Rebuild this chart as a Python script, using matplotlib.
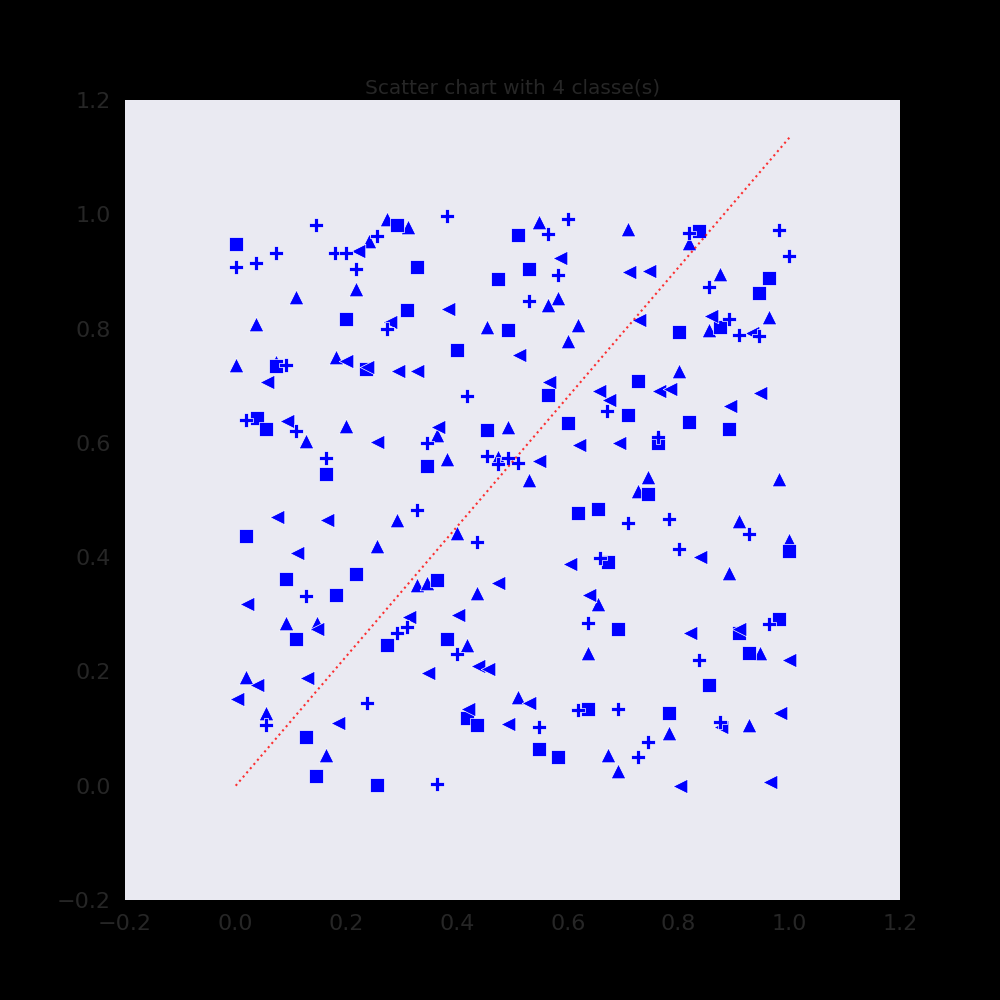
import numpy as np
import matplotlib
matplotlib.use("Agg")
import matplotlib.pyplot as plt

# class 1: squares
sq_x = [0.000, 0.291, 0.327, 0.310, 0.199, 0.073, 0.236, 0.510, 0.529, 0.473,
        0.491, 0.400, 0.565, 0.837, 0.964, 0.946, 0.801, 0.874, 0.727, 0.038,
        0.055, 0.163, 0.019, 0.091, 0.217, 0.181, 0.454, 0.601, 0.346, 0.619,
        0.655, 0.364, 0.709, 0.819, 0.892, 0.763, 0.745, 0.673, 1.000, 0.109,
        0.274, 0.127, 0.145, 0.256, 0.382, 0.417, 0.436, 0.637, 0.547, 0.583,
        0.691, 0.982, 0.910, 0.928, 0.855, 0.783]
sq_y = [0.948, 0.981, 0.908, 0.832, 0.817, 0.735, 0.729, 0.964, 0.905, 0.886,
        0.797, 0.762, 0.684, 0.971, 0.888, 0.862, 0.794, 0.802, 0.709, 0.644,
        0.624, 0.545, 0.437, 0.361, 0.370, 0.334, 0.622, 0.634, 0.559, 0.478,
        0.485, 0.360, 0.649, 0.637, 0.625, 0.599, 0.510, 0.392, 0.410, 0.256,
        0.247, 0.085, 0.017, 0.001, 0.256, 0.118, 0.106, 0.135, 0.065, 0.050,
        0.274, 0.291, 0.267, 0.233, 0.177, 0.128]

# class 2: plus
pl_x = [0.145, 0.256, 0.073, 0.179, 0.199, 0.000, 0.037, 0.217, 0.274, 0.091,
        0.382, 0.601, 0.565, 0.583, 0.529, 0.418, 0.819, 0.982, 1.000, 0.855,
        0.892, 0.910, 0.946, 0.019, 0.109, 0.163, 0.327, 0.127, 0.346, 0.454,
        0.473, 0.491, 0.510, 0.671, 0.436, 0.658, 0.763, 0.709, 0.783, 0.928,
        0.801, 0.292, 0.310, 0.238, 0.055, 0.637, 0.400, 0.619, 0.547, 0.364,
        0.964, 0.837, 0.691, 0.874, 0.745, 0.727]
pl_y = [0.982, 0.962, 0.933, 0.933, 0.932, 0.907, 0.914, 0.905, 0.799, 0.736,
        0.997, 0.991, 0.966, 0.893, 0.848, 0.682, 0.967, 0.972, 0.927, 0.872,
        0.817, 0.789, 0.787, 0.640, 0.621, 0.573, 0.482, 0.332, 0.600, 0.577,
        0.563, 0.573, 0.565, 0.656, 0.426, 0.398, 0.611, 0.459, 0.466, 0.440,
        0.415, 0.268, 0.277, 0.144, 0.106, 0.284, 0.230, 0.132, 0.102, 0.003,
        0.283, 0.220, 0.134, 0.112, 0.076, 0.050]

# class 3: triangles up
tu_x = [0.273, 0.312, 0.240, 0.218, 0.109, 0.037, 0.073, 0.000, 0.181, 0.547,
        0.583, 0.565, 0.454, 0.619, 0.601, 0.709, 0.819, 0.874, 0.964, 0.855,
        0.801, 0.199, 0.127, 0.292, 0.256, 0.327, 0.364, 0.491, 0.382, 0.473,
        0.529, 0.400, 0.345, 0.436, 0.745, 0.727, 0.982, 0.910, 0.892, 1.000,
        0.763, 0.091, 0.146, 0.019, 0.055, 0.163, 0.655, 0.418, 0.637, 0.510,
        0.783, 0.928, 0.947, 0.673, 0.691]
tu_y = [0.991, 0.977, 0.953, 0.870, 0.855, 0.808, 0.742, 0.736, 0.751, 0.987,
        0.853, 0.841, 0.803, 0.806, 0.778, 0.975, 0.949, 0.896, 0.821, 0.798,
        0.725, 0.630, 0.603, 0.465, 0.420, 0.351, 0.614, 0.627, 0.571, 0.576,
        0.535, 0.443, 0.355, 0.337, 0.541, 0.516, 0.537, 0.463, 0.372, 0.430,
        0.612, 0.284, 0.284, 0.190, 0.127, 0.054, 0.318, 0.247, 0.232, 0.156,
        0.092, 0.106, 0.233, 0.053, 0.026]

# class 4: triangles left
tl_x = [0.279, 0.200, 0.237, 0.294, 0.327, 0.056, 0.221, 0.585, 0.384, 0.512,
        0.566, 0.657, 0.711, 0.747, 0.729, 0.858, 0.932, 0.674, 0.765, 0.784,
        0.947, 0.092, 0.256, 0.074, 0.164, 0.110, 0.021, 0.366, 0.621, 0.548,
        0.603, 0.474, 0.639, 0.893, 0.693, 0.839, 0.147, 0.038, 0.002, 0.129,
        0.184, 0.313, 0.402, 0.348, 0.438, 0.456, 0.530, 0.420, 0.492, 0.821,
        0.910, 1.000, 0.983, 0.876, 0.803, 0.965]
tl_y = [0.812, 0.744, 0.733, 0.726, 0.725, 0.706, 0.936, 0.923, 0.834, 0.753,
        0.707, 0.691, 0.899, 0.901, 0.815, 0.822, 0.793, 0.675, 0.690, 0.694,
        0.688, 0.638, 0.601, 0.470, 0.465, 0.408, 0.318, 0.627, 0.596, 0.568,
        0.388, 0.354, 0.334, 0.665, 0.599, 0.400, 0.275, 0.177, 0.151, 0.188,
        0.109, 0.296, 0.299, 0.198, 0.209, 0.204, 0.145, 0.135, 0.108, 0.267,
        0.274, 0.220, 0.127, 0.102, 0.000, 0.006]

# dotted reference line
ref_x = [0.0, 1.0]
ref_y = [0.0, 1.134]

text_col = "#262626"

fig = plt.figure(figsize=(10, 10), dpi=100, facecolor="black")
ax = fig.add_axes([0.125, 0.1, 0.775, 0.8])
ax.set_facecolor("#EAEAF2")
for s in ax.spines.values():
    s.set_visible(False)

kw = dict(s=110, c="blue", edgecolors="white", linewidths=0.5)
ax.scatter(tu_x, tu_y, marker="^", **kw)
ax.scatter(sq_x, sq_y, marker="s", **kw)
ax.scatter(tl_x, tl_y, marker="<", **kw)
ax.scatter(pl_x, pl_y, marker="P", **kw)

ax.plot(ref_x, ref_y, color="red", linestyle=":", linewidth=1.5, alpha=0.8)

ax.set_xlim(-0.2, 1.2)
ax.set_ylim(-0.2, 1.2)
ticks = np.arange(-0.2, 1.21, 0.2)
ax.set_xticks(ticks)
ax.set_yticks(ticks)
ax.set_xticklabels([f"{t:.1f}".replace("-", "\u2212") for t in ticks])
ax.set_yticklabels([f"{t:.1f}".replace("-", "\u2212") for t in ticks])
ax.tick_params(length=0, labelsize=16, labelcolor=text_col, pad=10)
ax.set_title("Scatter chart with 4 classe(s)", fontsize=14.5, color=text_col, pad=5)

fig.savefig("out.png", facecolor="black")
